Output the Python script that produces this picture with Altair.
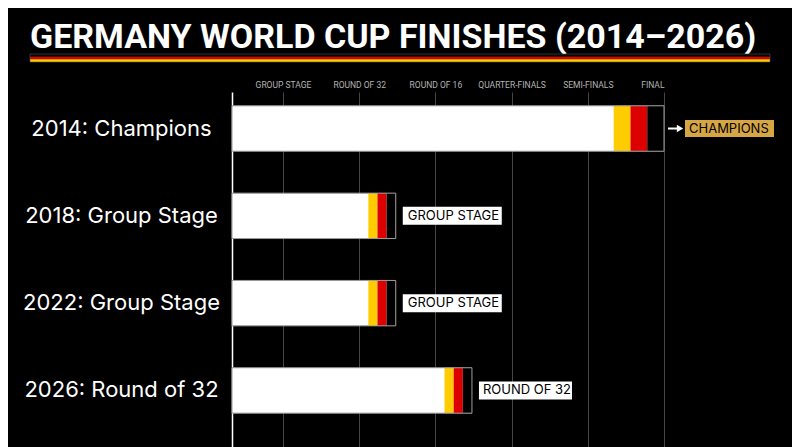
import json
import altair as alt
import pandas as pd

# ---------------- data ----------------
TITLE = "GERMANY WORLD CUP FINISHES (2014–2026)"
rows = ["2014: Champions", "2018: Group Stage", "2022: Group Stage", "2026: Round of 32"]
finish = ["CHAMPIONS", "GROUP STAGE", "GROUP STAGE", "ROUND OF 32"]
bar_end = [6.0, 2.48, 2.48, 3.48]
stripe_w = [0.22, 0.12, 0.12, 0.12]
stage_ticks = [1, 2, 3, 4, 5, 6]
stage_names = ["GROUP STAGE", "ROUND OF 32", "ROUND OF 16",
               "QUARTER-FINALS", "SEMI-FINALS", "FINAL"]
AXIS_MIN = 0.331
AXIS_MAX = 6.0

# ---------------- styles ----------------
FONT = "Inter"
TITLE_FONT = "Roboto"
STRIPE_COLORS = ["#FFCC00", "#DD0000", "#000000"]
FLAG_COLORS = ["#000000", "#DD0000", "#FFCC00"]
BOX_STYLE = {
    "CHAMPIONS": dict(fill="#D6A645", x0=21, w=89, h=17, tx=25),
    "GROUP STAGE": dict(fill="#FFFFFF", x0=7, w=99, h=18, tx=12),
    "ROUND OF 32": dict(fill="#FFFFFF", x0=7, w=93, h=18, tx=11),
}
PX_PER_UNIT = 76.2
W = round((AXIS_MAX - AXIS_MIN) * PX_PER_UNIT)
H = 355

df = pd.DataFrame({"row": rows, "finish": finish, "end": bar_end, "sw": stripe_w})
df["start"] = AXIS_MIN

stripes = []
for r, e, w in zip(rows, bar_end, stripe_w):
    for i, c in enumerate(STRIPE_COLORS):
        stripes.append({"row": r, "s0": e - (3 - i) * w, "s1": e - (2 - i) * w, "color": c})
sdf = pd.DataFrame(stripes)

label_expr = f"{json.dumps(stage_names)}[datum.value - 1]"

x_scale = alt.Scale(domain=[AXIS_MIN, AXIS_MAX], zero=False, nice=False)
y_scale = alt.Scale(domain=rows, paddingInner=0.48, paddingOuter=0.273, align=0.29)

x_axis = alt.Axis(orient="top", values=stage_ticks, labelExpr=label_expr, grid=True,
                  gridColor="#464646", gridWidth=1, ticks=False, domain=False,
                  labelFont=TITLE_FONT, labelFontSize=8.5, labelColor="#b4b4b4",
                  labelPadding=3, title="")
y_axis = alt.Axis(labelAlign="center", labelPadding=111, labelLimit=0, ticks=False,
                  domain=True, domainColor="#FFFFFF", domainWidth=1.5, labelFont=FONT,
                  labelFontSize=22, labelColor="#FFFFFF", labelBaseline="middle",
                  grid=False, title="")

X = lambda f: alt.X(f, type="quantitative", scale=x_scale, axis=x_axis)
Y = alt.Y("row:N", scale=y_scale, axis=y_axis, sort=rows)

base = alt.Chart(df)

white_bar = base.mark_bar(color="#FFFFFF").encode(x=X("start"), x2="end", y=Y)
stripe_bar = alt.Chart(sdf).mark_bar().encode(
    x=X("s0"), x2="s1", y=Y, color=alt.Color("color:N", scale=None))
outline = base.mark_bar(fill="#FFFFFF", fillOpacity=0, stroke="#9a9a9a",
                        strokeWidth=1).encode(x=X("start"), x2="end", y=Y)

layers = [white_bar, stripe_bar, outline]

for lab, st in BOX_STYLE.items():
    sub = base.transform_filter(alt.datum.finish == lab)
    layers.append(sub.mark_bar(color=st["fill"], size=st["h"], xOffset=st["x0"],
                               x2Offset=st["x0"] + st["w"]).encode(
        x=X("end"), x2="end", y=Y))
    layers.append(sub.mark_text(align="left", baseline="middle", dx=st["tx"],
                                font=FONT, fontSize=13, color="#000000").encode(
        x=X("end"), y=Y, text="finish:N"))

champ = base.transform_filter(alt.datum.finish == "CHAMPIONS")
layers.append(champ.mark_rule(color="#FFFFFF", strokeWidth=2, xOffset=4,
                              x2Offset=16).encode(x=X("end"), x2="end", y=Y))
layers.append(champ.mark_point(shape="triangle-right", filled=True, color="#FFFFFF",
                               size=55, opacity=1, xOffset=16).encode(x=X("end"), y=Y))

# title and flag stripe
tdf = pd.DataFrame({"t": [TITLE]})
layers.append(alt.Chart(tdf).mark_text(align="left", baseline="alphabetic", font=TITLE_FONT,
                                       fontSize=34, fontWeight="bold", color="#FFFFFF").encode(
    x=alt.value(-202), y=alt.value(-44), text="t:N"))
for i, c in enumerate(FLAG_COLORS):
    layers.append(alt.Chart(tdf).mark_rect(color=c).encode(
        x=alt.value(-202), x2=alt.value(538),
        y=alt.value(-38 + i * 2.67), y2=alt.value(-38 + (i + 1) * 2.67)))
layers.append(alt.Chart(tdf).mark_rect(fillOpacity=0, stroke="#555555", strokeWidth=0.6).encode(
    x=alt.value(-202), x2=alt.value(538), y=alt.value(-38), y2=alt.value(-30)))

chart = alt.layer(*layers).properties(
    width=W, height=H,
    autosize=alt.AutoSizeParams(type="none"),
    padding={"left": 224, "top": 84, "right": 784 - 224 - W, "bottom": 0},
    background="#000000",
    usermeta={"embedOptions": {"defaultStyle": "body{background:#000000;}"}},
).configure_view(strokeWidth=0)

chart.save("out.html", embed_options={"renderer": "svg", "actions": False})
